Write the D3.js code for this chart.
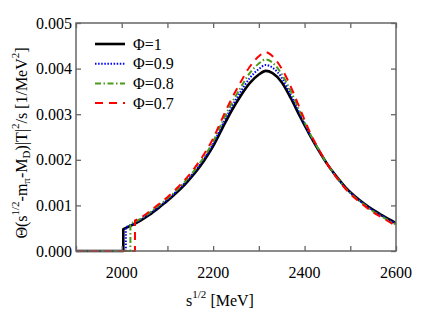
<!DOCTYPE html>
<html>
<head>
<meta charset="utf-8">
<title>phi spectrum</title>
<script src="https://d3js.org/d3.v7.min.js"></script>
<style>
  body { margin: 0; background: #fff; overflow: hidden; }
  svg { display: block; }
</style>
</head>
<body>
<svg width="436" height="314" id="mainsvg"></svg>
<script>
// sqrt(s) grid in MeV (shared by every curve above its threshold)
const sGrid = [2040, 2060, 2080, 2100, 2120, 2140, 2160, 2180, 2200, 2220, 2240, 2260, 2280,
  2300, 2315, 2330, 2350, 2370, 2390, 2410, 2430, 2450, 2470, 2490, 2510, 2530, 2550, 2570, 2600];

// thresholds and values at threshold
const phiLabels = ['\u03A6=1', '\u03A6=0.9', '\u03A6=0.8', '\u03A6=0.7'];
const thresholds = [2003.5, 2009, 2019, 2029];
const jumpValues = [0.00048, 0.00052, 0.00060, 0.00067];

const phi10 = [0.00066, 0.00079, 0.00094, 0.00110, 0.00128, 0.00148, 0.00171, 0.00198, 0.00230, 0.00269, 0.00307, 0.00340, 0.00368,
  0.00387, 0.00395, 0.00390, 0.00370, 0.00335, 0.00295, 0.00257, 0.00222, 0.00190, 0.00163, 0.00139, 0.00120, 0.00104, 0.00090, 0.00078, 0.00061];
const phi09 = [0.00068, 0.00081, 0.00096, 0.00112, 0.00131, 0.00151, 0.00175, 0.00202, 0.00235, 0.00276, 0.00315, 0.00349, 0.00379,
  0.00399, 0.00408, 0.00402, 0.00380, 0.00342, 0.00300, 0.00259, 0.00223, 0.00190, 0.00162, 0.00138, 0.00119, 0.00103, 0.00089, 0.00077, 0.00060];
const phi08 = [0.00070, 0.00083, 0.00099, 0.00115, 0.00133, 0.00154, 0.00178, 0.00206, 0.00240, 0.00283, 0.00323, 0.00358, 0.00390,
  0.00411, 0.00420, 0.00413, 0.00388, 0.00350, 0.00305, 0.00261, 0.00224, 0.00190, 0.00162, 0.00137, 0.00118, 0.00102, 0.00087, 0.00075, 0.00058];
const phi07 = [0.00072, 0.00086, 0.00102, 0.00118, 0.00137, 0.00158, 0.00183, 0.00212, 0.00247, 0.00291, 0.00333, 0.00370, 0.00404,
  0.00427, 0.00436, 0.00427, 0.00400, 0.00360, 0.00312, 0.00264, 0.00225, 0.00190, 0.00161, 0.00136, 0.00116, 0.00100, 0.00085, 0.00073, 0.00055];

const xTicks = [2000, 2200, 2400, 2600];
const xMinorTicks = [1900, 2000, 2100, 2200, 2300, 2400, 2500, 2600];
const yTicks = [0, 0.001, 0.002, 0.003, 0.004, 0.005];

const colors = ['#000000', '#0000ff', '#4c9a1a', '#ff0000'];
const dashes = [null, '1.5,1.6', '6,2.5,1.5,2.5', '8,6'];
const widths = [2.6, 2, 2, 2];
const serif = "'Liberation Serif', 'Times New Roman', 'DejaVu Serif', serif";

const svg = d3.select('#mainsvg');
const margin = { top: 23, right: 40, bottom: 63, left: 76 };
const innerWidth = 436 - margin.left - margin.right;
const innerHeight = 314 - margin.top - margin.bottom;

const g = svg.append('g').attr('transform', `translate(${margin.left}, ${margin.top})`);

const xScale = d3.scaleLinear().domain([1900, 2600]).range([0, innerWidth]);
const yScale = d3.scaleLinear().domain([0, 0.005]).range([innerHeight, 0]);

svg.append('defs').append('clipPath').attr('id', 'plotclip')
  .append('rect').attr('x', 0).attr('y', -2).attr('width', innerWidth).attr('height', innerHeight + 4);

// build each curve: zero up to threshold, vertical jump, then the shared grid
const seriesValues = [phi10, phi09, phi08, phi07];
const curves = seriesValues.map((vals, i) => {
  const pts = [[1900, 0], [thresholds[i], 0], [thresholds[i], jumpValues[i]]];
  sGrid.forEach((s, k) => pts.push([s, vals[k]]));
  return pts;
});

const line = d3.line()
  .x(d => xScale(d[0]))
  .y(d => yScale(d[1]))
  .curve(d3.curveMonotoneX);

// straight baseline+jump, smooth after
const plot = g.append('g').attr('clip-path', 'url(#plotclip)');
curves.forEach((pts, i) => {
  const step = pts.slice(0, 3);
  const smooth = pts.slice(2);
  const p = d3.path();
  p.moveTo(xScale(step[0][0]), yScale(step[0][1]));
  p.lineTo(xScale(step[1][0]), yScale(step[1][1]));
  p.lineTo(xScale(step[2][0]), yScale(step[2][1]));
  const d = p.toString() + line(smooth).replace(/^M[^A-Za-z]*/, '');
  plot.append('path')
    .attr('d', d)
    .attr('fill', 'none')
    .attr('stroke', colors[i])
    .attr('stroke-width', widths[i])
    .attr('stroke-dasharray', dashes[i])
    .attr('stroke-linejoin', 'round');
});

// frame and ticks
const axisColor = '#666';
g.append('rect')
  .attr('width', innerWidth).attr('height', innerHeight)
  .attr('fill', 'none').attr('stroke', axisColor).attr('stroke-width', 1.5);

const axBottom = g.append('g').attr('transform', `translate(0, ${innerHeight})`)
  .call(d3.axisBottom(xScale).tickValues(xMinorTicks).tickSize(-5).tickFormat(''));
const axTop = g.append('g')
  .call(d3.axisTop(xScale).tickValues(xMinorTicks).tickSize(-5).tickFormat(''));
const axLeft = g.append('g')
  .call(d3.axisLeft(yScale).tickValues(yTicks).tickSize(-5).tickFormat(''));
const axRight = g.append('g').attr('transform', `translate(${innerWidth}, 0)`)
  .call(d3.axisRight(yScale).tickValues(yTicks).tickSize(-5).tickFormat(''));
[axBottom, axTop, axLeft, axRight].forEach(a => {
  a.select('.domain').remove();
  a.selectAll('text').remove();
  a.selectAll('line').attr('stroke', axisColor).attr('stroke-width', 1.3);
});

// tick labels
g.selectAll('.xlab').data(xTicks).join('text')
  .attr('x', d => xScale(d)).attr('y', innerHeight + 27)
  .attr('text-anchor', 'middle').attr('font-size', 16)
  .style('font-family', serif)
  .text(d => d);
g.selectAll('.ylab').data(yTicks).join('text')
  .attr('x', -4).attr('y', d => yScale(d) + 5.5)
  .attr('text-anchor', 'end').attr('font-size', 16)
  .style('font-family', serif)
  .text(d => d.toFixed(3));

// axis titles
const xt = svg.append('text').attr('x', 220).attr('y', 306).attr('text-anchor', 'middle')
  .attr('font-size', 16).style('font-family', serif);
xt.append('tspan').text('s');
xt.append('tspan').attr('dy', -8).attr('font-size', 11).text('1/2');
xt.append('tspan').attr('dy', 8).text(' [MeV]');

const yt = svg.append('text')
  .attr('transform', `translate(27, 143) rotate(-90)`)
  .attr('text-anchor', 'middle').attr('font-size', 16).style('font-family', serif);
yt.append('tspan').text('\u0398(s');
yt.append('tspan').attr('dy', -8).attr('font-size', 11).text('1/2');
yt.append('tspan').attr('dy', 8).text('-m');
yt.append('tspan').attr('dy', 3).attr('font-size', 11).text('\u03C0');
yt.append('tspan').attr('dy', -3).text('-M');
yt.append('tspan').attr('dy', 3).attr('font-size', 11).text('D');
yt.append('tspan').attr('dy', -3).text(')|T|');
yt.append('tspan').attr('dy', -8).attr('font-size', 11).text('2');
yt.append('tspan').attr('dy', 8).text('/s [1/MeV');
yt.append('tspan').attr('dy', -8).attr('font-size', 11).text('2');
yt.append('tspan').attr('dy', 8).text(']');

// legend
const legend = g.append('g').attr('transform', 'translate(19, 21)');
phiLabels.forEach((lab, i) => {
  const row = legend.append('g').attr('transform', `translate(0, ${i * 19.7})`);
  row.append('line').attr('x1', 0).attr('x2', 30).attr('y1', 0).attr('y2', 0)
    .attr('stroke', colors[i]).attr('stroke-width', widths[i])
    .attr('stroke-dasharray', dashes[i]);
  row.append('text').attr('x', 38).attr('y', 5.5).attr('font-size', 16)
    .style('font-family', serif).text(lab);
});
</script>
</body>
</html>
